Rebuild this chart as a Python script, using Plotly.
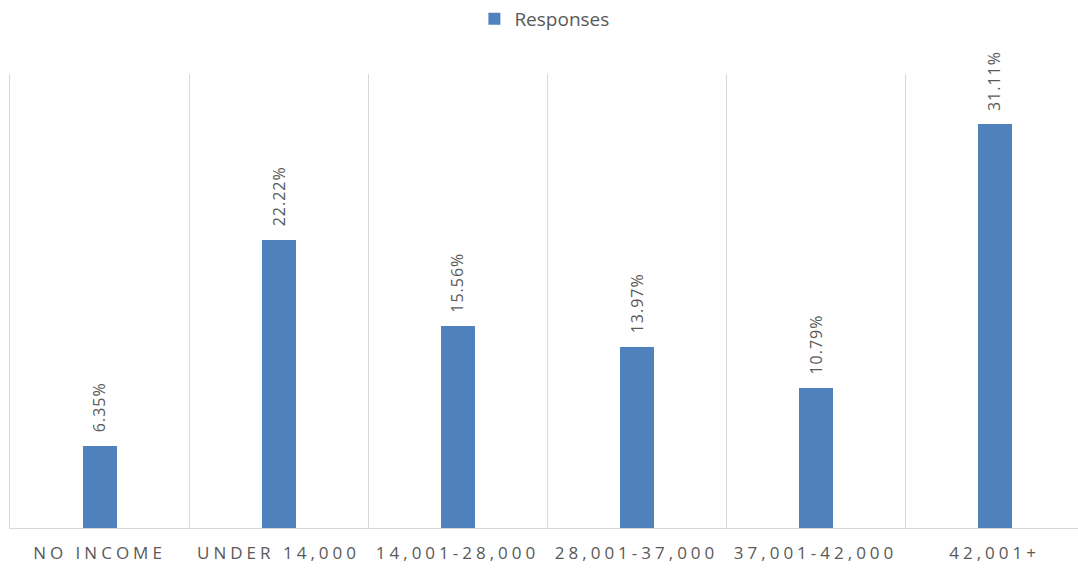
import plotly.graph_objects as go

# Income bands and share of responses (%)
categories = ["NO INCOME", "UNDER 14,000", "14,001-28,000",
              "28,001-37,000", "37,001-42,000", "42,001+"]
responses = [6.35, 22.22, 15.56, 13.97, 10.79, 31.11]
series_name = "Responses"

BAR_COLOR = "#4f81bd"
TEXT_COLOR = "#595959"
GRID_COLOR = "#d9d9d9"

fig = go.Figure()
fig.add_trace(go.Bar(
    x=categories,
    y=responses,
    name=series_name,
    marker=dict(color=BAR_COLOR, line=dict(width=0)),
    width=0.19,
    showlegend=True,
))

# Rotated value labels above each bar
for cat, val in zip(categories, responses):
    fig.add_annotation(
        x=cat, y=val, xref="x", yref="y",
        text=f"{val:.2f}%",
        textangle=-90,
        showarrow=False,
        xanchor="center", yanchor="bottom",
        yshift=14,
        font=dict(family="Open Sans", size=16, color=TEXT_COLOR),
    )

fig.update_layout(
    width=1078, height=568,
    margin=dict(l=10, r=0, t=74, b=40),
    paper_bgcolor="white", plot_bgcolor="white",
    bargap=0,
    showlegend=True,
    legend=dict(
        orientation="h",
        xref="container", yref="container",
        x=0.505, y=1.0, xanchor="center", yanchor="top",
        font=dict(family="Open Sans", size=19, color=TEXT_COLOR),
        itemwidth=30,
    ),
    xaxis=dict(
        type="category",
        range=[-0.5, 5.466],
        tickson="boundaries",
        showgrid=True, gridcolor=GRID_COLOR, gridwidth=1,
        showline=True, linecolor=GRID_COLOR, linewidth=1,
        ticks="", ticklabelstandoff=10,
        tickfont=dict(family="Open Sans", size=17, color=TEXT_COLOR),
        zeroline=False,
    ),
    yaxis=dict(
        range=[0, 35],
        showgrid=False, showticklabels=False, zeroline=False,
        showline=True, linecolor=GRID_COLOR, linewidth=1, ticks="",
    ),
)

# Widen the tracking of the axis labels and value labels
post = """
var gd = document.getElementById('{plot_id}');
function spaceText() {
  gd.querySelectorAll('.xtick text').forEach(function(t){ t.style.letterSpacing = '4px'; });
  gd.querySelectorAll('.annotation-text').forEach(function(t){ t.style.letterSpacing = '1px'; });
}
spaceText();
gd.on('plotly_afterplot', spaceText);
"""
fig.write_html("out.html", post_script=post)
